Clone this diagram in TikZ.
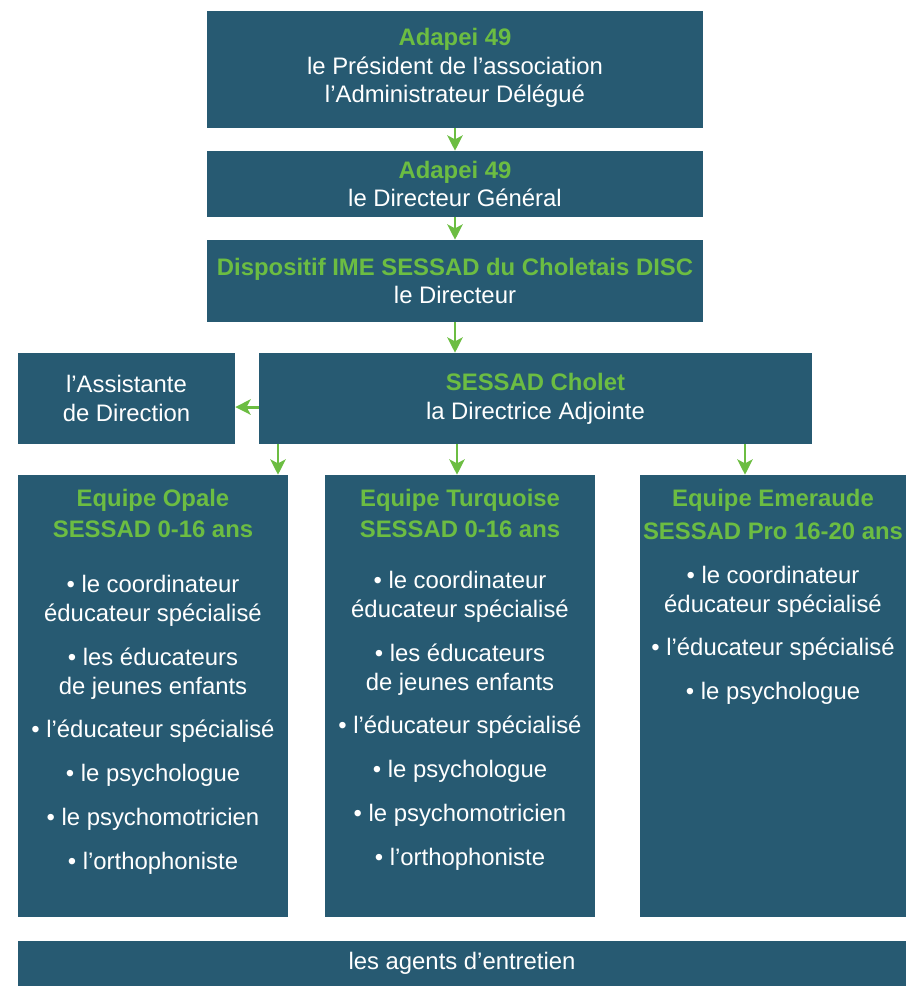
\documentclass[tikz,border=0pt]{standalone}
\usepackage{fontspec}
\setmainfont{Liberation Sans}
\usetikzlibrary{arrows.meta}
\definecolor{boxblue}{RGB}{39,90,114}
\definecolor{leafgreen}{RGB}{108,189,66}
\newcommand{\entete}[1]{\textcolor{leafgreen}{\textbf{#1}}}
\begin{document}
\begin{tikzpicture}[x=0.75pt,y=-0.75pt,
  boite/.style={fill=boxblue,rectangle,inner sep=0pt,text=white,align=center,font=\fontsize{17.9}{21.6}\selectfont},
  liste/.style={inner sep=0pt,text=white,align=center,anchor=north,font=\fontsize{17.9}{21.6}\selectfont},
  fleche/.style={draw=leafgreen,line width=2.2pt,-{Stealth[length=11.5pt,width=11.5pt,inset=3pt]}}]
\def\lw{202.5pt};
\def\lh{331.5pt};
\def\sp{11.3pt};
\useasboundingbox (0,0) rectangle (906,986);
\node[boite,minimum width=372pt,minimum height=87.75pt] (pres) at (455,69.5) {\entete{Adapei 49}\\le Président de l’association\\l’Administrateur Délégué\\[-15.5pt]};
\node[boite,minimum width=372pt,minimum height=49.5pt] (dg) at (455,184) {\entete{Adapei 49}\\le Directeur Général};
\node[boite,minimum width=372pt,minimum height=61.5pt] (disc) at (455,281) {\entete{Dispositif IME SESSAD du Choletais DISC}\\le Directeur};
\node[boite,minimum width=162.75pt,minimum height=68.25pt] (assist) at (126.5,398.5) {l’Assistante\\de Direction};
\node[boite,minimum width=414.75pt,minimum height=68.25pt] (chol) at (535.5,398.5) {\entete{SESSAD Cholet}\\la Directrice Adjointe};

\node[boite,minimum width=\lw,minimum height=\lh] (opale) at (153,696) {};
\node[boite,minimum width=\lw,minimum height=\lh] (turq) at (460,696) {};
\node[boite,minimum width=199.5pt,minimum height=\lh] (emer) at (773,696) {};
\node[boite,minimum width=666pt,minimum height=33.75pt] (agents) at (462,963.5) {les agents d’entretien};

\node[liste] (opaleT) at ([yshift=-11pt]opale.north) {\entete{Equipe Opale}\\[1pt]\entete{SESSAD 0-16 ans}\\[20pt]
  • le coordinateur\\éducateur spécialisé\\[\sp]
  • les éducateurs\\de jeunes enfants\\[\sp]
  • l’éducateur spécialisé\\[\sp]
  • le psychologue\\[\sp]
  • le psychomotricien\\[\sp]
  • l’orthophoniste};
\node[liste] (turqT) at ([yshift=-11pt]turq.north) {\entete{Equipe Turquoise}\\[1pt]\entete{SESSAD 0-16 ans}\\[17pt]
  • le coordinateur\\éducateur spécialisé\\[\sp]
  • les éducateurs\\de jeunes enfants\\[\sp]
  • l’éducateur spécialisé\\[\sp]
  • le psychologue\\[\sp]
  • le psychomotricien\\[\sp]
  • l’orthophoniste};
\node[liste] (emerT) at ([yshift=-11pt]emer.north) {\entete{Equipe Emeraude}\\[3pt]\entete{SESSAD Pro 16-20 ans}\\[11pt]
  • le coordinateur\\éducateur spécialisé\\[\sp]
  • l’éducateur spécialisé\\[\sp]
  • le psychologue};

\coordinate (c1) at (278,0);
\coordinate (c2) at (457,0);
\coordinate (c3) at (745,0);
\draw[fleche] (pres) to (dg);
\draw[fleche] (dg) to (disc);
\draw[fleche] (disc.south) to (chol.north -| disc.south);
\draw[fleche] ([yshift=-6.4pt]chol.west) to ([yshift=-6.4pt]assist.east);
\draw[fleche] (chol.south -| c1) to (opale.north -| c1);
\draw[fleche] (chol.south -| c2) to (turq.north -| c2);
\draw[fleche] (chol.south -| c3) to (emer.north -| c3);
\end{tikzpicture}
\end{document}
